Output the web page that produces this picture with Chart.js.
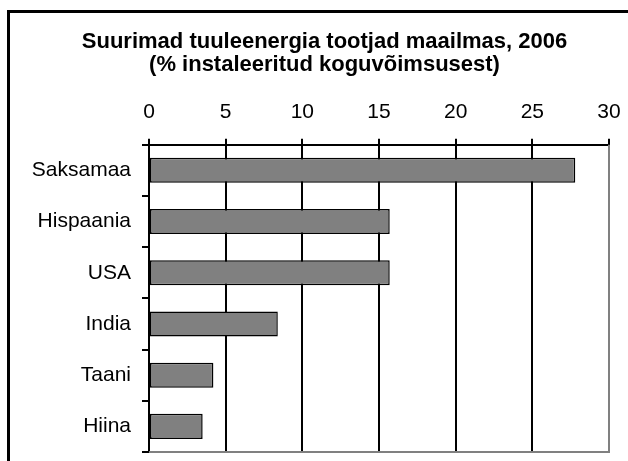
<!DOCTYPE html>
<html lang="et">
  <head>
    <meta charset="UTF-8" />
    <title>Suurimad tuuleenergia tootjad maailmas, 2006</title>
  </head>
  <style>
    * {
      margin: 0;
      padding: 0;
    }
    body {
      background: white;
      width: 628px;
      height: 461px;
      overflow: hidden;
      position: relative;
    }
    .frame {
      position: absolute;
      left: 7px;
      top: 10px;
      width: 700px;
      height: 600px;
      border: 3px solid black;
    }
    #myChart {
      position: absolute;
      left: 0;
      top: 0;
    }
  </style>
  <body>
    <div class="frame"></div>
    <canvas id="myChart" width="628" height="461"></canvas>

    <script src="https://cdn.jsdelivr.net/npm/chart.js"></script>

    <script>
      const countries = ["Saksamaa", "Hispaania", "USA", "India", "Taani", "Hiina"];
      const shares = [27.8, 15.7, 15.7, 8.4, 4.2, 3.5];
      const titleLines = ["Suurimad tuuleenergia tootjad maailmas, 2006", "(% instaleeritud koguvõimsusest)"];
      const axisMin = 0;
      const axisMax = 30;
      const axisStep = 5;

      const fontFamily = "'Liberation Sans', Arial, sans-serif";

      // gray right/bottom edge of the plot area
      const plotEdges = {
        id: "plotEdges",
        afterDraw(chart) {
          const { ctx, chartArea } = chart;
          ctx.save();
          ctx.strokeStyle = "#808080";
          ctx.lineWidth = 2;
          ctx.beginPath();
          ctx.moveTo(chartArea.left, chartArea.bottom);
          ctx.lineTo(chartArea.right, chartArea.bottom);
          ctx.lineTo(chartArea.right, chartArea.top);
          ctx.stroke();
          ctx.restore();
        }
      };

      // title in the original sits a bit right of the page centre
      const titleShift = {
        id: "titleShift",
        afterLayout(chart) {
          chart.titleBlock.left += 40;
        }
      };

      const data = {
        labels: countries,
        datasets: [
          {
            data: shares,
            backgroundColor: "#808080",
            borderColor: "#000",
            borderWidth: 1.5,
            borderSkipped: false,
            categoryPercentage: 1,
            barPercentage: 0.49
          }
        ]
      };

      const config = {
        type: "bar",
        data,
        options: {
          indexAxis: "y",
          responsive: false,
          animation: false,
          events: [],
          layout: {
            padding: { left: 0, right: 19, top: 0, bottom: 9 }
          },
          plugins: {
            legend: { display: false },
            tooltip: { enabled: false },
            title: {
              display: true,
              text: titleLines,
              color: "#000",
              font: { family: fontFamily, size: 22, weight: "bold", lineHeight: 1.05 },
              padding: { top: 30, bottom: 0 }
            }
          },
          scales: {
            x: {
              position: "top",
              min: axisMin,
              max: axisMax,
              afterFit(scale) {
                scale.height = 68.5;
                scale.paddingLeft = 0;
                scale.paddingRight = 0;
              },
              ticks: {
                stepSize: axisStep,
                color: "#000",
                padding: 14,
                font: { family: fontFamily, size: 21 }
              },
              grid: {
                color: "#000",
                lineWidth: 2,
                tickLength: 6
              },
              border: { color: "#000", width: 2 }
            },
            y: {
              afterFit(scale) {
                scale.width = 149;
                scale.paddingTop = 0;
                scale.paddingBottom = 0;
              },
              ticks: {
                color: "#000",
                padding: 11,
                font: { family: fontFamily, size: 21 }
              },
              grid: {
                drawOnChartArea: false,
                color: "#000",
                lineWidth: 2,
                tickLength: 7
              },
              border: { color: "#000", width: 2 }
            }
          }
        },
        plugins: [plotEdges, titleShift]
      };

      const myChart = new Chart(document.getElementById("myChart"), config);
    </script>
  </body>
</html>
